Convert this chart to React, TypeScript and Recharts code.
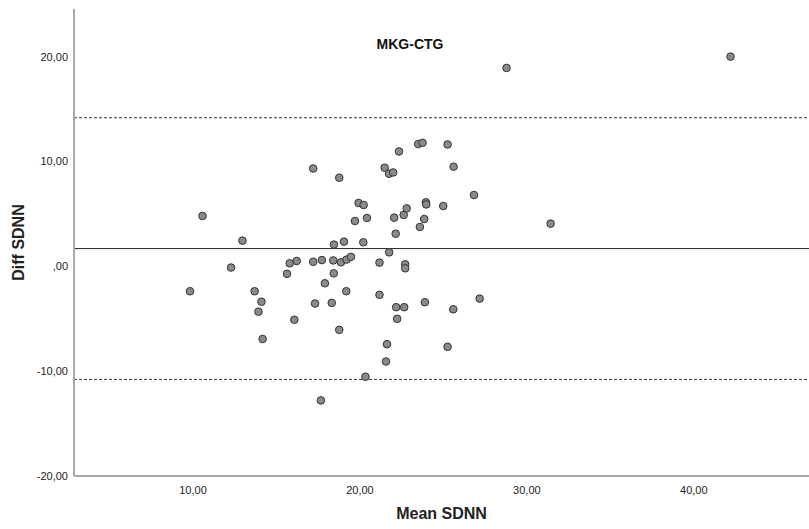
import React from "react";
import {
  ScatterChart,
  Scatter,
  XAxis,
  YAxis,
  ReferenceLine,
} from "recharts";

// Bland-Altman: MKG vs CTG, SDNN
const meanSdnn = [
  9.82, 10.57, 12.28, 12.96, 13.69, 14.1, 13.92, 14.17, 15.63, 15.79,
  16.07, 16.21, 17.2, 17.2, 17.31, 17.66, 17.72, 17.9, 18.31, 18.4,
  18.43, 18.44, 18.76, 18.76, 18.86, 19.04, 19.18, 19.2, 19.46, 19.7,
  19.92, 20.22, 20.2, 20.33, 20.42, 21.17, 21.17, 21.48, 21.56, 21.62,
  21.74, 21.75, 21.99, 22.05, 22.14, 22.17, 22.23, 22.34, 22.62, 22.65,
  22.71, 22.71, 22.8, 23.49, 23.59, 23.75, 23.85, 23.89, 23.95, 23.97,
  24.99, 25.25, 25.25, 25.61, 25.59, 26.83, 27.17, 28.78, 31.42, 42.2,
];
const diffSdnn = [
  -2.38, 4.8, -0.12, 2.45, -2.38, -3.38, -4.33, -6.93, -0.72, 0.29,
  -5.1, 0.51, 9.33, 0.43, -3.55, -12.79, 0.59, -1.62, -3.49, 0.56,
  -0.67, 2.07, 8.45, -6.06, 0.38, 2.35, -2.38, 0.64, 0.9, 4.32,
  6.04, 5.85, 2.29, -10.53, 4.61, 0.35, -2.72, 9.4, -9.08, -7.43,
  8.83, 1.33, 8.95, 4.64, 3.11, -3.9, -5.01, 10.95, 4.9, -3.9,
  0.19, -0.19, 5.52, 11.66, 3.75, 11.78, 4.51, -3.43, 6.1, 5.9,
  5.75, 11.62, -7.68, 9.5, -4.1, 6.8, -3.08, 18.92, 4.07, 20.0,
];

const meanDiff = 1.69;
const upperLoa = 14.17;
const lowerLoa = -10.79;

const xTicks = [10, 20, 30, 40];
const yTicks = [-20, -10, 0, 10, 20];

const points = meanSdnn.map((x, i) => ({ x, y: diffSdnn[i] }));

const fmt = (v: number) => (v === 0 ? ",00" : v.toFixed(2).replace(".", ","));

const Dot = (props: any) => (
  <circle
    cx={props.cx}
    cy={props.cy}
    r={3.8}
    fill="#8a8a8a"
    stroke="#333"
    strokeWidth={1}
  />
);

const font = "'Liberation Sans', Arial, sans-serif";

export default function App() {
  return (
    <div
      style={{
        position: "absolute",
        left: 0,
        top: 0,
        width: 809,
        height: 529,
        background: "#fff",
        fontFamily: font,
      }}
    >
      <ScatterChart
        width={809}
        height={529}
        margin={{ top: 9, right: 0, bottom: 0, left: 0 }}
      >
        <XAxis
          type="number"
          dataKey="x"
          domain={[2.87, 46.9]}
          ticks={xTicks}
          tickFormatter={fmt}
          tickLine={false}
          tickSize={6}
          tickMargin={4}
          height={53}
          axisLine={{ stroke: "#a8a8a8", strokeWidth: 2 }}
          tick={{ fontSize: 11, fill: "#222", fontFamily: font }}
          label={(p: any) => (
            <text
              x={p.viewBox.x + p.viewBox.width / 2}
              y={519}
              textAnchor="middle"
              fontSize={16}
              fontWeight="bold"
              fill="#222"
              fontFamily={font}
            >
              Mean SDNN
            </text>
          )}
        />
        <YAxis
          type="number"
          dataKey="y"
          domain={[-20, 24.54]}
          ticks={yTicks}
          tickFormatter={fmt}
          tickLine={false}
          tickSize={4}
          tickMargin={2}
          width={74}
          axisLine={{ stroke: "#a8a8a8", strokeWidth: 2 }}
          tick={{ fontSize: 11, fill: "#222", fontFamily: font }}
          label={(p: any) => {
            const cy = p.viewBox.y + p.viewBox.height / 2;
            return (
              <text
                x={24}
                y={cy}
                transform={`rotate(-90 24 ${cy})`}
                textAnchor="middle"
                fontSize={16}
                fontWeight="bold"
                fill="#222"
                fontFamily={font}
              >
                Diff SDNN
              </text>
            );
          }}
        />
        <ReferenceLine y={upperLoa} stroke="#333" strokeDasharray="3 2" />
        <ReferenceLine y={meanDiff} stroke="#222" />
        <ReferenceLine y={lowerLoa} stroke="#333" strokeDasharray="3 2" />
        <Scatter data={points} shape={Dot} isAnimationActive={false} />
      </ScatterChart>
      <div
        style={{
          position: "absolute",
          left: 410,
          top: 44,
          transform: "translate(-50%, -50%)",
          fontSize: 14,
          fontWeight: "bold",
          color: "#111",
          whiteSpace: "nowrap",
        }}
      >
        MKG-CTG
      </div>
    </div>
  );
}
